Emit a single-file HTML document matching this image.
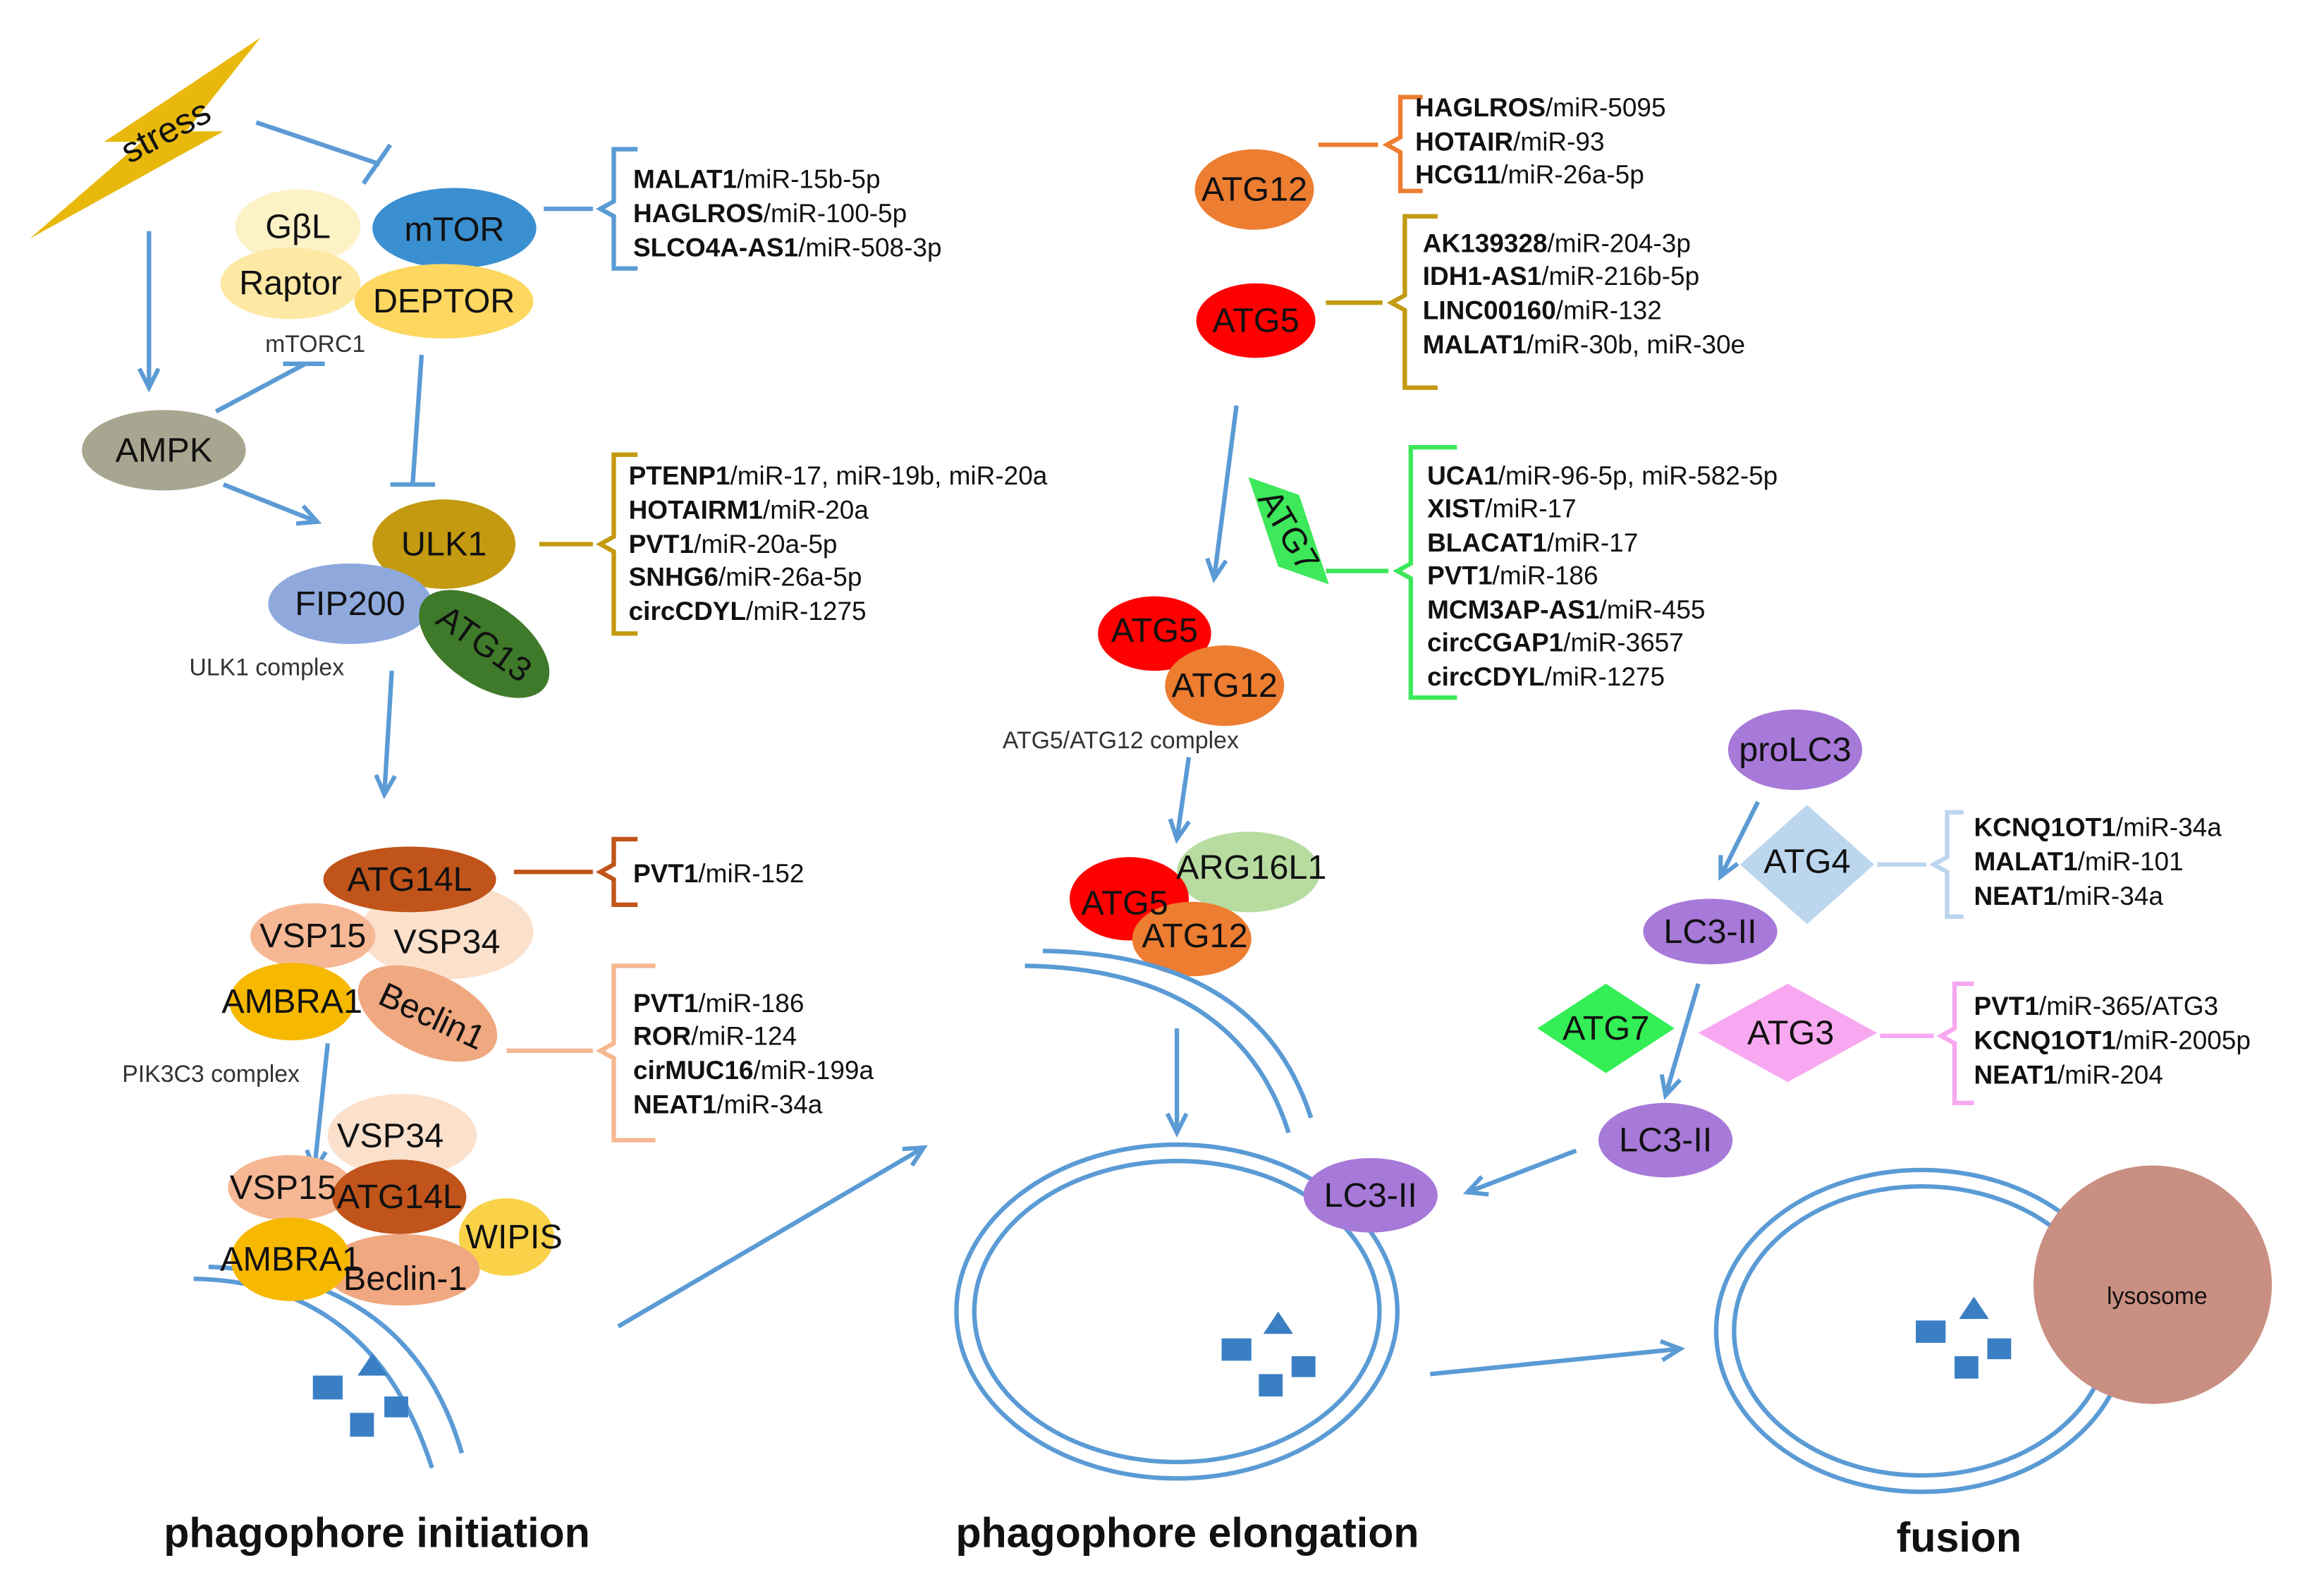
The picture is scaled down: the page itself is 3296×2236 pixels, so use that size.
<!DOCTYPE html>
<html><head><meta charset="utf-8"><style>
html,body{margin:0;padding:0;background:#fff}
svg{display:block}
text{font-family:"Liberation Sans",Arial,sans-serif;fill:#111}
.l{font-size:17.5px}
.n{font-size:23px;text-anchor:middle;dominant-baseline:central}
.s{font-size:16px;fill:#333}
.t{font-size:28px;font-weight:bold;text-anchor:middle}
.a{stroke:#5b9bd5;stroke-width:3;fill:none}
</style></head><body>
<svg width="3296" height="2236" viewBox="0 0 1560 1058" xmlns="http://www.w3.org/2000/svg">
<defs>
<marker id="ar" viewBox="0 0 10 10" refX="9" refY="5" markerWidth="16" markerHeight="16" orient="auto" markerUnits="userSpaceOnUse" style="overflow:visible">
<polyline points="1,1 9,5 1,9" fill="none" stroke="#5b9bd5" stroke-width="1.8"/>
</marker>
</defs>

<!-- stress -->
<polygon points="20,160 95,95 70,95 175,25 125,88 150,88" fill="#e8b80c"/>
<text x="115" y="95" font-size="24" transform="rotate(-28 115 95)" text-anchor="middle">stress</text>
<line class="a" x1="172" y1="82" x2="255" y2="110"/>
<line class="a" x1="244" y1="123" x2="262" y2="97"/>
<line class="a" x1="100" y1="155" x2="100" y2="260" marker-end="url(#ar)"/>

<!-- mTORC1 -->
<ellipse cx="200" cy="152" rx="42" ry="25" fill="#fdf1c6"/>
<ellipse cx="305" cy="153" rx="55" ry="27" fill="#3a8fd0"/>
<ellipse cx="195" cy="190" rx="47" ry="24" fill="#fde8a4"/>
<ellipse cx="298" cy="202" rx="60" ry="25" fill="#fdd760"/>
<text class="n" x="200" y="152">GβL</text>
<text class="n" x="305" y="154">mTOR</text>
<text class="n" x="195" y="190">Raptor</text>
<text class="n" x="298" y="202">DEPTOR</text>
<text class="s" x="178" y="236">mTORC1</text>

<line class="a" x1="365" y1="140" x2="398" y2="140"/>
<path d="M428,100 H412 V135 L403,140 L412,145 V180 H428" stroke="#5b9bd5" stroke-width="3" fill="none"/>
<text class="l" x="425" y="126"><tspan font-weight="bold">MALAT1</tspan>/miR-15b-5p</text>
<text class="l" x="425" y="149"><tspan font-weight="bold">HAGLROS</tspan>/miR-100-5p</text>
<text class="l" x="425" y="172"><tspan font-weight="bold">SLCO4A-AS1</tspan>/miR-508-3p</text>

<!-- AMPK -->
<ellipse cx="110" cy="302" rx="55" ry="27" fill="#a8a690"/>
<text class="n" x="110" y="302">AMPK</text>
<line class="a" x1="145" y1="276" x2="205" y2="244"/>
<line class="a" x1="190" y1="244" x2="218" y2="244"/>
<line class="a" x1="150" y1="325" x2="213" y2="350" marker-end="url(#ar)"/>
<line class="a" x1="283" y1="238" x2="277" y2="325"/>
<line class="a" x1="262" y1="325" x2="292" y2="325"/>

<!-- ULK1 -->
<ellipse cx="298" cy="365" rx="48" ry="30" fill="#c39a10"/>
<ellipse cx="235" cy="405" rx="55" ry="27" fill="#8fa9dd"/>
<ellipse cx="325" cy="432" rx="50" ry="27" fill="#3f7a2a" transform="rotate(35 325 432)"/>
<text class="n" x="298" y="365">ULK1</text>
<text class="n" x="235" y="405">FIP200</text>
<text class="n" x="325" y="432" transform="rotate(35 325 432)">ATG13</text>
<text class="s" x="127" y="453">ULK1 complex</text>
<line class="a" x1="362" y1="365" x2="398" y2="365" style="stroke:#c39a10"/>
<path d="M428,305 H412 V360 L403,365 L412,370 V425 H428" stroke="#c39a10" stroke-width="3" fill="none"/>
<text class="l" x="422" y="325"><tspan font-weight="bold">PTENP1</tspan>/miR-17, miR-19b, miR-20a</text>
<text class="l" x="422" y="348"><tspan font-weight="bold">HOTAIRM1</tspan>/miR-20a</text>
<text class="l" x="422" y="371"><tspan font-weight="bold">PVT1</tspan>/miR-20a-5p</text>
<text class="l" x="422" y="393"><tspan font-weight="bold">SNHG6</tspan>/miR-26a-5p</text>
<text class="l" x="422" y="416"><tspan font-weight="bold">circCDYL</tspan>/miR-1275</text>
<line class="a" x1="263" y1="450" x2="258" y2="533" marker-end="url(#ar)"/>

<!-- PIK3C3 -->
<ellipse cx="300" cy="625" rx="58" ry="32" fill="#fbe0cc"/>
<ellipse cx="275" cy="590" rx="58" ry="22" fill="#c0541a"/>
<ellipse cx="210" cy="628" rx="42" ry="22" fill="#f6b894"/>
<ellipse cx="196" cy="672" rx="42" ry="26" fill="#f7b800"/>
<ellipse cx="287" cy="680" rx="50" ry="27" fill="#f0a880" transform="rotate(25 287 680)"/>
<text class="n" x="275" y="590" font-size="21">ATG14L</text>
<text class="n" x="210" y="628" font-size="20">VSP15</text>
<text class="n" x="300" y="632" font-size="20">VSP34</text>
<text class="n" x="196" y="672" font-size="16">AMBRA1</text>
<text class="n" x="290" y="682" font-size="18" transform="rotate(25 290 682)">Beclin1</text>
<text class="s" x="82" y="726">PIK3C3 complex</text>
<line class="a" x1="345" y1="585" x2="398" y2="585" style="stroke:#c0541a"/>
<path d="M428,563 H412 V580 L403,585 L412,590 V607 H428" stroke="#c0541a" stroke-width="3" fill="none"/>
<text class="l" x="425" y="592"><tspan font-weight="bold">PVT1</tspan>/miR-152</text>
<line class="a" x1="340" y1="705" x2="398" y2="705" style="stroke:#f5b890"/>
<path d="M440,648 H412 V700 L403,705 L412,710 V765 H440" stroke="#f5b890" stroke-width="3" fill="none"/>
<text class="l" x="425" y="679"><tspan font-weight="bold">PVT1</tspan>/miR-186</text>
<text class="l" x="425" y="701"><tspan font-weight="bold">ROR</tspan>/miR-124</text>
<text class="l" x="425" y="724"><tspan font-weight="bold">cirMUC16</tspan>/miR-199a</text>
<text class="l" x="425" y="747"><tspan font-weight="bold">NEAT1</tspan>/miR-34a</text>
<line class="a" x1="220" y1="700" x2="211" y2="785" marker-end="url(#ar)"/>

<!-- membrane initiation -->
<path d="M130,858 Q250,860 290,985" class="a" stroke-width="2"/>
<path d="M140,850 Q275,855 310,975" class="a" stroke-width="2"/>
<ellipse cx="270" cy="762" rx="50" ry="28" fill="#fbe0cc"/>
<ellipse cx="195" cy="797" rx="42" ry="22" fill="#f6b894"/>
<ellipse cx="340" cy="830" rx="32" ry="26" fill="#f9d24a"/>
<ellipse cx="270" cy="852" rx="52" ry="24" fill="#f0a880"/>
<ellipse cx="268" cy="803" rx="45" ry="25" fill="#c0541a"/>
<ellipse cx="195" cy="845" rx="40" ry="28" fill="#f7b800"/>
<text class="n" x="262" y="762" font-size="20">VSP34</text>
<text class="n" x="190" y="797" font-size="20">VSP15</text>
<text class="n" x="268" y="803" font-size="19">ATG14L</text>
<text class="n" x="345" y="830" font-size="18">WIPIS</text>
<text class="n" x="195" y="845" font-size="16">AMBRA1</text>
<text class="n" x="272" y="858" font-size="18">Beclin-1</text>
<g fill="#3a7fc4"><rect x="210" y="923" width="20" height="16"/><rect x="235" y="948" width="16" height="16"/><rect x="258" y="937" width="16" height="14"/><polygon points="250,908 260,923 240,923"/></g>
<line class="a" x1="415" y1="890" x2="620" y2="770" marker-end="url(#ar)"/>
<text class="t" x="253" y="1038">phagophore initiation</text>

<!-- middle -->
<ellipse cx="842" cy="127" rx="40" ry="27" fill="#ed7d31"/>
<text class="n" x="842" y="127">ATG12</text>
<line class="a" x1="885" y1="97" x2="925" y2="97" style="stroke:#ed7d31"/>
<path d="M955,65 H940 V92 L931,97 L940,102 V128 H955" stroke="#ed7d31" stroke-width="3" fill="none"/>
<text class="l" x="950" y="78"><tspan font-weight="bold">HAGLROS</tspan>/miR-5095</text>
<text class="l" x="950" y="101"><tspan font-weight="bold">HOTAIR</tspan>/miR-93</text>
<text class="l" x="950" y="123"><tspan font-weight="bold">HCG11</tspan>/miR-26a-5p</text>

<ellipse cx="843" cy="215" rx="40" ry="25" fill="#f00"/>
<text class="n" x="843" y="215">ATG5</text>
<line class="a" x1="890" y1="203" x2="928" y2="203" style="stroke:#c39a10"/>
<path d="M965,145 H943 V198 L934,203 L943,208 V260 H965" stroke="#c39a10" stroke-width="3" fill="none"/>
<text class="l" x="955" y="169"><tspan font-weight="bold">AK139328</tspan>/miR-204-3p</text>
<text class="l" x="955" y="191"><tspan font-weight="bold">IDH1-AS1</tspan>/miR-216b-5p</text>
<text class="l" x="955" y="214"><tspan font-weight="bold">LINC00160</tspan>/miR-132</text>
<text class="l" x="955" y="237"><tspan font-weight="bold">MALAT1</tspan>/miR-30b, miR-30e</text>
<line class="a" x1="830" y1="272" x2="815" y2="388" marker-end="url(#ar)"/>

<polygon points="838,320 872,332 892,392 858,380" fill="#3de85a"/>
<text class="n" x="865" y="356" font-size="19" transform="rotate(60 865 356)">ATG7</text>
<line class="a" x1="890" y1="383" x2="932" y2="383" style="stroke:#3de85a"/>
<path d="M978,300 H947 V378 L938,383 L947,388 V468 H978" stroke="#3de85a" stroke-width="3" fill="none"/>
<text class="l" x="958" y="325"><tspan font-weight="bold">UCA1</tspan>/miR-96-5p, miR-582-5p</text>
<text class="l" x="958" y="347"><tspan font-weight="bold">XIST</tspan>/miR-17</text>
<text class="l" x="958" y="370"><tspan font-weight="bold">BLACAT1</tspan>/miR-17</text>
<text class="l" x="958" y="392"><tspan font-weight="bold">PVT1</tspan>/miR-186</text>
<text class="l" x="958" y="415"><tspan font-weight="bold">MCM3AP-AS1</tspan>/miR-455</text>
<text class="l" x="958" y="437"><tspan font-weight="bold">circCGAP1</tspan>/miR-3657</text>
<text class="l" x="958" y="460"><tspan font-weight="bold">circCDYL</tspan>/miR-1275</text>

<ellipse cx="775" cy="425" rx="38" ry="25" fill="#f00"/>
<ellipse cx="822" cy="460" rx="40" ry="27" fill="#ed7d31"/>
<text class="n" x="775" y="423">ATG5</text>
<text class="n" x="822" y="460">ATG12</text>
<text class="s" x="673" y="502">ATG5/ATG12 complex</text>
<line class="a" x1="798" y1="508" x2="790" y2="563" marker-end="url(#ar)"/>

<ellipse cx="838" cy="585" rx="48" ry="27" fill="#b8dca0"/>
<ellipse cx="758" cy="603" rx="40" ry="28" fill="#f00"/>
<ellipse cx="800" cy="630" rx="40" ry="25" fill="#ed7d31"/>
<text class="n" x="840" y="582">ARG16L1</text>
<text class="n" x="755" y="606">ATG5</text>
<text class="n" x="802" y="628">ATG12</text>
<path d="M688,648 Q830,650 865,760" class="a" stroke-width="2"/>
<path d="M700,638 Q845,640 880,750" class="a" stroke-width="2"/>
<line class="a" x1="790" y1="690" x2="790" y2="760" marker-end="url(#ar)"/>

<ellipse cx="790" cy="880" rx="148" ry="112" class="a" stroke-width="2"/>
<ellipse cx="790" cy="880" rx="136" ry="101" class="a" stroke-width="2"/>
<g fill="#3a7fc4"><rect x="820" y="898" width="20" height="15"/><rect x="845" y="922" width="16" height="15"/><rect x="867" y="910" width="16" height="14"/><polygon points="858,880 868,895 848,895"/></g>
<ellipse cx="920" cy="802" rx="45" ry="25" fill="#a779d8"/>
<text class="n" x="920" y="802" font-size="20">LC3-II</text>
<line class="a" x1="1058" y1="772" x2="985" y2="800" marker-end="url(#ar)"/>
<text class="t" x="797" y="1038">phagophore elongation</text>

<!-- right -->
<ellipse cx="1205" cy="503" rx="45" ry="27" fill="#a779d8"/>
<text class="n" x="1205" y="503" font-size="20">proLC3</text>
<line class="a" x1="1180" y1="538" x2="1155" y2="588" marker-end="url(#ar)"/>
<polygon points="1213,540 1258,580 1213,620 1168,580" fill="#bcd6ee"/>
<text class="n" x="1213" y="578" font-size="21">ATG4</text>
<line class="a" x1="1260" y1="580" x2="1293" y2="580" style="stroke:#bcd6ee"/>
<path d="M1318,545 H1307 V575 L1298,580 L1307,585 V615 H1318" stroke="#bcd6ee" stroke-width="3" fill="none"/>
<text class="l" x="1325" y="561"><tspan font-weight="bold">KCNQ1OT1</tspan>/miR-34a</text>
<text class="l" x="1325" y="584"><tspan font-weight="bold">MALAT1</tspan>/miR-101</text>
<text class="l" x="1325" y="607"><tspan font-weight="bold">NEAT1</tspan>/miR-34a</text>
<ellipse cx="1148" cy="625" rx="45" ry="22" fill="#a779d8"/>
<text class="n" x="1148" y="625" font-size="20">LC3-II</text>

<polygon points="1078,660 1124,690 1078,720 1032,690" fill="#33ee55"/>
<text class="n" x="1078" y="690" font-size="20">ATG7</text>
<polygon points="1200,660 1260,693 1200,726 1140,693" fill="#f7a8f0"/>
<text class="n" x="1202" y="693" font-size="21">ATG3</text>
<line class="a" x1="1262" y1="695" x2="1298" y2="695" style="stroke:#f7a8f0"/>
<path d="M1325,660 H1312 V690 L1303,695 L1312,700 V740 H1325" stroke="#f7a8f0" stroke-width="3" fill="none"/>
<text class="l" x="1325" y="681"><tspan font-weight="bold">PVT1</tspan>/miR-365/ATG3</text>
<text class="l" x="1325" y="704"><tspan font-weight="bold">KCNQ1OT1</tspan>/miR-2005p</text>
<text class="l" x="1325" y="727"><tspan font-weight="bold">NEAT1</tspan>/miR-204</text>
<line class="a" x1="1140" y1="660" x2="1118" y2="735" marker-end="url(#ar)"/>
<ellipse cx="1118" cy="765" rx="45" ry="25" fill="#a779d8"/>
<text class="n" x="1118" y="765" font-size="20">LC3-II</text>

<ellipse cx="1290" cy="893" rx="138" ry="108" class="a" stroke-width="2"/>
<ellipse cx="1290" cy="893" rx="126" ry="97" class="a" stroke-width="2"/>
<circle cx="1445" cy="862" r="80" fill="#c98f82"/>
<text x="1448" y="875" font-size="16" text-anchor="middle" fill="#333">lysosome</text>
<g fill="#3a7fc4"><rect x="1286" y="886" width="20" height="15"/><rect x="1312" y="910" width="16" height="15"/><rect x="1334" y="898" width="16" height="14"/><polygon points="1325,870 1335,885 1315,885"/></g>
<line class="a" x1="960" y1="922" x2="1128" y2="905" marker-end="url(#ar)"/>
<text class="t" x="1315" y="1041">fusion</text>
</svg>
</body></html>
